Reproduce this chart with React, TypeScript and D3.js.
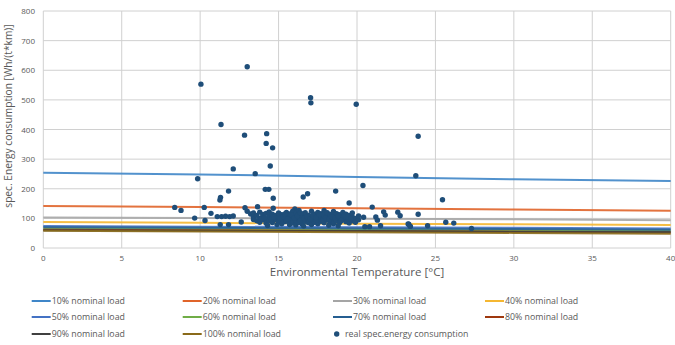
import React, { useEffect, useRef } from "react";
import * as d3 from "d3";

// nominal-load model lines, values read at these temperatures
const lineTemps = [0, 10, 20, 30, 40];
const loadLabels = [
  "10% nominal load",
  "20% nominal load",
  "30% nominal load",
  "40% nominal load",
  "50% nominal load",
  "60% nominal load",
  "70% nominal load",
  "80% nominal load",
  "90% nominal load",
  "100% nominal load",
];
const load10 = [254, 248, 240, 232, 226];
const load20 = [142, 138, 134, 130, 126];
const load30 = [103, 101, 99, 97, 94];
const load40 = [88, 85, 82, 80, 78];
const load50 = [74, 72, 70, 68, 66];
const load60 = [66, 64, 62, 60, 58];
const load70 = [70, 68, 66, 64, 62];
const load80 = [62, 60, 57, 55, 52];
const load90 = [60, 58, 57, 55, 54];
const load100 = [58, 56, 53, 51, 48];
const loadSeries = [load10, load20, load30, load40, load50, load60, load70, load80, load90, load100];
const loadColors = [
  "#3f86c8",
  "#e0642a",
  "#a5a5a5",
  "#f5b731",
  "#4472c4",
  "#70ad47",
  "#255e91",
  "#9e380e",
  "#404040",
  "#8a6a1a",
];

// measured consumption [temperature, Wh/(t*km)]
const outlierPoints: [number, number][] = [
  [10.05, 553], [13.0, 612], [11.33, 417], [12.83, 381], [14.24, 386], [14.21, 353],
  [14.62, 338], [14.47, 277], [12.11, 267], [13.51, 251], [9.84, 234], [17.04, 507],
  [17.06, 490], [19.95, 485], [23.9, 377], [23.75, 244], [20.38, 211], [11.26, 162],
  [11.3, 171], [11.81, 192], [14.15, 198], [14.38, 198], [14.66, 168], [16.57, 172],
  [16.85, 183], [18.64, 192], [19.5, 152], [20.97, 138], [8.38, 137], [8.78, 127],
  [10.26, 137], [9.65, 101], [10.31, 93], [10.69, 117], [11.09, 106], [11.37, 106],
  [11.62, 107], [11.88, 106], [12.11, 108], [11.28, 79], [11.81, 79], [12.62, 88],
  [12.86, 136], [13.0, 124], [13.22, 115], [13.66, 139], [14.66, 134], [25.45, 163],
  [25.66, 87], [26.17, 84], [27.3, 66], [23.9, 114], [23.26, 81], [23.39, 73],
  [24.5, 75], [20.42, 104], [20.5, 72], [20.8, 72], [21.2, 105], [21.3, 94],
  [21.5, 75], [21.7, 122], [21.8, 111], [22.6, 121], [22.75, 109], [23.3, 80],
  [23.4, 73], [16.04, 132], [15.5, 100], [15.4, 89],
];
const clusterPoints: [number, number][] = [
  [13.4, 118], [13.4, 104], [13.4, 96], [13.6, 110], [13.6, 92], [13.8, 121], [13.8, 101],
  [13.8, 87], [14.0, 113], [14.0, 95], [14.0, 106], [14.2, 117], [14.2, 98], [14.2, 84],
  [14.4, 108], [14.4, 92], [14.4, 122], [14.6, 101], [14.6, 86], [14.6, 114], [14.8, 96],
  [14.8, 110], [15.0, 104], [15.0, 89], [15.0, 118], [15.2, 97], [15.2, 112], [15.2, 82],
  [15.5, 107], [15.5, 93], [15.5, 120], [15.7, 88], [15.7, 101], [15.7, 115], [15.7, 79],
  [15.9, 96], [15.9, 109], [15.9, 84], [15.9, 124], [16.1, 92], [16.1, 104], [16.1, 117],
  [16.1, 78], [16.3, 99], [16.3, 86], [16.3, 112], [16.3, 127], [16.5, 95], [16.5, 108],
  [16.5, 81], [16.7, 103], [16.7, 90], [16.7, 119], [16.9, 97], [16.9, 111], [16.9, 85],
  [17.1, 106], [17.1, 92], [17.1, 124], [17.1, 79], [17.3, 100], [17.3, 114], [17.3, 87],
  [17.5, 95], [17.5, 108], [17.5, 120], [17.5, 82], [17.7, 103], [17.7, 90], [17.7, 116],
  [17.9, 98], [17.9, 111], [17.9, 85], [17.9, 127], [18.1, 94], [18.1, 106], [18.1, 119],
  [18.3, 101], [18.3, 88], [18.3, 113], [18.5, 96], [18.5, 109], [18.5, 82], [18.5, 123],
  [18.7, 104], [18.7, 91], [18.7, 116], [18.9, 99], [18.9, 86], [18.9, 112], [19.1, 95],
  [19.1, 107], [19.1, 120], [19.3, 102], [19.3, 89], [19.3, 114], [19.5, 97], [19.5, 110],
  [19.5, 84], [19.7, 92], [19.7, 105], [19.7, 118], [19.9, 100], [19.9, 87], [20.1, 95],
  [20.1, 108], [14.3, 76], [14.9, 79], [18.2, 77], [18.8, 75], [16.6, 74],
  [15.6, 98], [15.8, 112], [16.0, 101], [16.2, 108], [16.4, 93], [16.4, 118], [16.6, 100],
  [16.8, 106], [17.0, 98], [17.2, 110], [17.4, 94], [17.4, 103], [17.6, 113], [17.8, 93],
  [18.0, 102], [18.2, 97], [18.4, 106], [18.6, 100], [18.8, 108], [19.0, 93], [19.2, 111],
  [19.4, 105], [19.6, 98], [13.9, 98], [14.1, 102], [14.5, 97], [14.7, 105], [15.1, 100],
  [15.3, 106], [15.4, 115],
];
const scatterLabel = "real spec.energy consumption";

const xTicks = [0, 5, 10, 15, 20, 25, 30, 35, 40];
const yTicks = [0, 100, 200, 300, 400, 500, 600, 700, 800];

const font = "'Open Sans', 'DejaVu Sans', sans-serif";
const textColor = "#595959";
const dotColor = "#1f4e79";

const App = () => {
  const svgRef = useRef<SVGSVGElement>(null);

  useEffect(() => {
    const width = 675;
    const height = 345;
    const plot = { left: 43.3, right: 670.7, top: 11, bottom: 248 };

    const svg = d3.select(svgRef.current);
    svg.selectAll("*").remove();
    svg.attr("width", width).attr("height", height);

    const x = d3.scaleLinear().domain([0, 40]).range([plot.left, plot.right]);
    const y = d3.scaleLinear().domain([0, 800]).range([plot.bottom, plot.top]);

    // grid
    svg
      .append("g")
      .selectAll("line")
      .data(yTicks)
      .enter()
      .append("line")
      .attr("x1", plot.left)
      .attr("x2", plot.right)
      .attr("y1", (d) => y(d))
      .attr("y2", (d) => y(d))
      .attr("stroke", "#d0d0d0")
      .attr("stroke-width", 1);
    svg
      .append("g")
      .selectAll("line")
      .data(xTicks)
      .enter()
      .append("line")
      .attr("x1", (d) => x(d))
      .attr("x2", (d) => x(d))
      .attr("y1", plot.top)
      .attr("y2", plot.bottom)
      .attr("stroke", "#d0d0d0")
      .attr("stroke-width", 1);

    // tick labels
    svg
      .append("g")
      .selectAll("text")
      .data(yTicks)
      .enter()
      .append("text")
      .attr("x", 35)
      .attr("y", (d) => y(d) + 3)
      .attr("text-anchor", "end")
      .attr("font-size", 8)
      .attr("font-family", font)
      .attr("fill", textColor)
      .text((d) => d);
    svg
      .append("g")
      .selectAll("text")
      .data(xTicks)
      .enter()
      .append("text")
      .attr("x", (d) => x(d))
      .attr("y", 261)
      .attr("text-anchor", "middle")
      .attr("font-size", 8)
      .attr("font-family", font)
      .attr("fill", textColor)
      .text((d) => d);

    // axis titles
    svg
      .append("text")
      .attr("transform", `translate(11.5,116) rotate(-90)`)
      .attr("text-anchor", "middle")
      .attr("font-size", 10.2)
      .attr("font-family", font)
      .attr("fill", textColor)
      .text("spec. Energy consumption [Wh/(t*km)]");
    svg
      .append("text")
      .attr("x", 357)
      .attr("y", 276)
      .attr("text-anchor", "middle")
      .attr("font-size", 11.5)
      .attr("font-family", font)
      .attr("fill", textColor)
      .text("Environmental Temperature [°C]");

    // load lines
    const line = d3
      .line<number>()
      .x((d, i) => x(lineTemps[i]))
      .y((d) => y(d));
    svg
      .append("g")
      .selectAll("path")
      .data(loadSeries)
      .enter()
      .append("path")
      .attr("d", (d) => line(d))
      .attr("fill", "none")
      .attr("stroke", (d, i) => loadColors[i])
      .attr("stroke-width", 2)
      .attr("stroke-opacity", 0.9);

    // scatter
    svg
      .append("g")
      .selectAll("circle")
      .data([...outlierPoints, ...clusterPoints])
      .enter()
      .append("circle")
      .attr("cx", (d) => x(d[0]))
      .attr("cy", (d) => y(d[1]))
      .attr("r", 2.7)
      .attr("fill", dotColor);

    // legend
    const colX = [31.7, 182.7, 333, 485];
    const rowY = [301, 317, 334];
    const legend = svg.append("g");
    loadLabels.forEach((label, i) => {
      const cx = colX[i % 4];
      const cy = rowY[Math.floor(i / 4)];
      legend
        .append("line")
        .attr("x1", cx)
        .attr("x2", cx + 19)
        .attr("y1", cy)
        .attr("y2", cy)
        .attr("stroke", loadColors[i])
        .attr("stroke-width", 2);
      legend
        .append("text")
        .attr("x", cx + 20)
        .attr("y", cy + 3)
        .attr("font-size", 8.8)
        .attr("font-family", font)
        .attr("fill", textColor)
        .text(label);
    });
    legend
      .append("circle")
      .attr("cx", 336.7)
      .attr("cy", rowY[2])
      .attr("r", 2.7)
      .attr("fill", dotColor);
    legend
      .append("text")
      .attr("x", 345)
      .attr("y", rowY[2] + 3)
      .attr("font-size", 8.8)
      .attr("font-family", font)
      .attr("fill", textColor)
      .text(scatterLabel);
  }, []);

  return (
    <div style={{ position: "absolute", left: 0, top: 0, background: "#fff" }}>
      <svg ref={svgRef}></svg>
    </div>
  );
};

export default App;
